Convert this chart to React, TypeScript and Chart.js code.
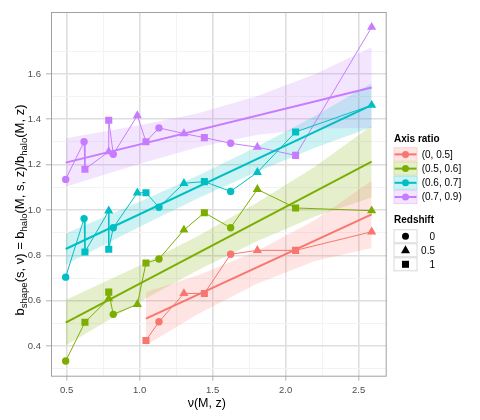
import React, { useEffect, useRef } from "react";
import { Chart, registerables } from "chart.js";
Chart.register(...registerables);

const groupLabels = ["(0, 0.5]", "(0.5, 0.6]", "(0.6, 0.7]", "(0.7, 0.9)"];
const groupColors = ["#F8766D", "#7CAE00", "#00BFC4", "#C77CFF"];
const groupFills = ["rgba(248,118,109,0.2)", "rgba(124,174,0,0.2)", "rgba(0,191,196,0.2)", "rgba(199,124,255,0.2)"];
const redshiftLabels = ["0", "0.5", "1"];

// measured points (nu, b, redshift)
const redNu = [1.043, 1.132, 1.303, 1.443, 1.623, 1.806, 2.068, 2.589];
const redB = [0.425, 0.507, 0.632, 0.632, 0.805, 0.822, 0.822, 0.904];
const redZ = [1, 0, 0.5, 1, 0, 0.5, 1, 0.5];

const greenNu = [0.493, 0.625, 0.788, 0.788, 0.819, 0.984, 1.043, 1.132, 1.303, 1.443, 1.623, 1.806, 2.068, 2.589];
const greenB = [0.334, 0.505, 0.609, 0.638, 0.54, 0.584, 0.766, 0.784, 0.912, 0.988, 0.922, 1.091, 1.009, 0.997];
const greenZ = [0, 1, 0.5, 1, 0, 0.5, 1, 0, 0.5, 1, 0, 0.5, 1, 0.5];

const cyanNu = [0.493, 0.619, 0.625, 0.788, 0.788, 0.819, 0.984, 1.043, 1.132, 1.303, 1.443, 1.623, 1.806, 2.068, 2.589];
const cyanB = [0.704, 0.962, 0.815, 0.996, 0.827, 0.922, 1.076, 1.076, 1.012, 1.118, 1.125, 1.082, 1.166, 1.344, 1.462];
const cyanZ = [0, 0, 1, 0.5, 1, 0, 0.5, 1, 0, 0.5, 1, 0, 0.5, 1, 0.5];

const purpleNu = [0.493, 0.619, 0.625, 0.788, 0.788, 0.819, 0.984, 1.043, 1.132, 1.303, 1.443, 1.623, 1.806, 2.068, 2.589];
const purpleB = [1.135, 1.301, 1.18, 1.257, 1.396, 1.246, 1.416, 1.301, 1.362, 1.337, 1.319, 1.294, 1.277, 1.241, 1.806];
const purpleZ = [0, 0, 1, 0.5, 1, 0, 0.5, 1, 0, 0.5, 1, 0, 0.5, 1, 0.5];

// regression lines (start / end)
const redFitX = [1.043, 2.589];
const redFitY = [0.521, 0.981];
const greenFitX = [0.493, 2.589];
const greenFitY = [0.503, 1.213];
const cyanFitX = [0.493, 2.589];
const cyanFitY = [0.828, 1.462];
const purpleFitX = [0.493, 2.589];
const purpleFitY = [1.209, 1.54];

// confidence ribbons
const redBandX = [1.043, 1.4, 1.8, 2.2, 2.589];
const redBandHi = [0.638, 0.712, 0.818, 0.955, 1.129];
const redBandLo = [0.404, 0.542, 0.674, 0.775, 0.833];
const bandX = [0.493, 1.0, 1.4, 1.8, 2.2, 2.589];
const greenBandHi = [0.603, 0.755, 0.885, 1.031, 1.191, 1.371];
const greenBandLo = [0.403, 0.595, 0.735, 0.861, 0.971, 1.055];
const cyanBandHi = [0.896, 1.036, 1.152, 1.278, 1.414, 1.559];
const cyanBandLo = [0.76, 0.926, 1.052, 1.168, 1.274, 1.365];
const purpleBandHi = [1.316, 1.374, 1.427, 1.501, 1.599, 1.718];
const purpleBandLo = [1.102, 1.204, 1.277, 1.331, 1.359, 1.362];

const xTickLabels = ["0.5", "1.0", "1.5", "2.0", "2.5"];
const yTickLabels = ["0.4", "0.6", "0.8", "1.0", "1.2", "1.4", "1.6"];

const FONT = "'Liberation Sans', Arial, Helvetica, sans-serif";

const styleFor = (z: number) => (z === 0 ? "circle" : z === 0.5 ? "triangle" : "rect");
const radiusFor = (z: number) => (z === 0 ? 3.7 : z === 0.5 ? 5.3 : 5.0);

const zip = (xs: number[], ys: number[]) => xs.map((x, i) => ({ x, y: ys[i] }));

const groups = [
  { nu: redNu, b: redB, z: redZ, fx: redFitX, fy: redFitY, bx: redBandX, hi: redBandHi, lo: redBandLo },
  { nu: greenNu, b: greenB, z: greenZ, fx: greenFitX, fy: greenFitY, bx: bandX, hi: greenBandHi, lo: greenBandLo },
  { nu: cyanNu, b: cyanB, z: cyanZ, fx: cyanFitX, fy: cyanFitY, bx: bandX, hi: cyanBandHi, lo: cyanBandLo },
  { nu: purpleNu, b: purpleB, z: purpleZ, fx: purpleFitX, fy: purpleFitY, bx: bandX, hi: purpleBandHi, lo: purpleBandLo },
];

const isMajorX = (v: number) => Math.abs(v * 2 - Math.round(v * 2)) < 1e-6;
const isMajorY = (v: number) => Math.round(v * 10) % 2 === 0;

const overlay = {
  id: "overlay",
  afterDraw(chart: any) {
    const ctx = chart.ctx as CanvasRenderingContext2D;
    const a = chart.chartArea;
    ctx.save();
    // panel border
    ctx.strokeStyle = "#a0a0a0";
    ctx.lineWidth = 1;
    ctx.strokeRect(a.left + 0.5, a.top + 0.5, a.right - a.left - 1, a.bottom - a.top - 1);

    // x title
    ctx.fillStyle = "#000";
    ctx.font = `12.5px ${FONT}`;
    ctx.textAlign = "center";
    ctx.textBaseline = "middle";
    ctx.fillText("ν(M, z)", 206.8, 404);

    // y title with subscripts
    const parts: [string, boolean][] = [
      ["b", false], ["shape", true], ["(s, ν) = b", false], ["halo", true],
      ["(M, s, z)/b", false], ["halo", true], ["(M, z)", false],
    ];
    const mainF = `13px ${FONT}`;
    const subF = `9.5px ${FONT}`;
    let total = 0;
    for (const [t, s] of parts) { ctx.font = s ? subF : mainF; total += ctx.measureText(t).width; }
    ctx.translate(19.5, 210);
    ctx.rotate(-Math.PI / 2);
    ctx.textAlign = "left";
    ctx.textBaseline = "alphabetic";
    let px = -total / 2;
    for (const [t, s] of parts) {
      ctx.font = s ? subF : mainF;
      ctx.fillText(t, px, s ? 7.8 : 4.7);
      px += ctx.measureText(t).width;
    }
    ctx.setTransform(1, 0, 0, 1, 0, 0);

    // legend: Axis ratio
    ctx.textAlign = "left";
    ctx.textBaseline = "middle";
    ctx.font = `bold 10px ${FONT}`;
    ctx.fillStyle = "#000";
    ctx.fillText("Axis ratio", 394, 139.5);
    const kx = 393.5, kw = 24, kh = 14.2;
    groupLabels.forEach((lab, i) => {
      const ky = 147.3 + i * kh;
      ctx.fillStyle = "#fff";
      ctx.fillRect(kx, ky, kw, kh);
      ctx.fillStyle = groupFills[i];
      ctx.fillRect(kx, ky, kw, kh);
      ctx.strokeStyle = groupFills[i];
      ctx.lineWidth = 1;
      ctx.strokeRect(kx + 0.5, ky + 0.5, kw - 1, kh - 1);
      ctx.strokeStyle = groupColors[i];
      ctx.lineWidth = 2;
      ctx.beginPath();
      ctx.moveTo(kx + 1, ky + kh / 2);
      ctx.lineTo(kx + kw - 1, ky + kh / 2);
      ctx.stroke();
      ctx.fillStyle = groupColors[i];
      ctx.beginPath();
      ctx.arc(kx + kw / 2, ky + kh / 2, 3.5, 0, Math.PI * 2);
      ctx.fill();
      ctx.fillStyle = "#000";
      ctx.font = `10px ${FONT}`;
      ctx.fillText(lab, 421.7, ky + kh / 2 + 0.5);
    });

    // legend: Redshift
    ctx.font = `bold 10px ${FONT}`;
    ctx.fillText("Redshift", 394, 220.7);
    const rkh = 14;
    redshiftLabels.forEach((lab, i) => {
      const ky = 229.3 + i * rkh;
      ctx.fillStyle = "#fff";
      ctx.fillRect(kx, ky, kw, rkh);
      ctx.strokeStyle = "#d9d9d9";
      ctx.lineWidth = 1;
      ctx.strokeRect(kx + 0.5, ky + 0.5, kw - 1, rkh - 1);
      const cx = kx + kw / 2, cy = ky + rkh / 2;
      ctx.fillStyle = "#000";
      ctx.beginPath();
      if (i === 0) ctx.arc(cx, cy, 3.5, 0, Math.PI * 2);
      else if (i === 1) { ctx.moveTo(cx, cy - 5); ctx.lineTo(cx + 4.5, cy + 3); ctx.lineTo(cx - 4.5, cy + 3); ctx.closePath(); }
      else ctx.rect(cx - 3.5, cy - 3.5, 7, 7);
      ctx.fill();
      ctx.font = `10px ${FONT}`;
      ctx.textAlign = "right";
      ctx.fillText(lab, 435, cy + 0.5);
      ctx.textAlign = "left";
    });
    ctx.restore();
  },
};

export default function App() {
  const ref = useRef<HTMLCanvasElement | null>(null);
  useEffect(() => {
    if (!ref.current) return;
    const datasets: any[] = [];
    groups.forEach((g, i) => {
      datasets.push({
        data: zip(g.bx, g.hi), borderColor: "transparent", borderWidth: 0, pointRadius: 0,
        backgroundColor: groupFills[i], fill: "+1", order: 3, tension: 0,
      });
      datasets.push({
        data: zip(g.bx, g.lo), borderColor: "transparent", borderWidth: 0, pointRadius: 0,
        fill: false, order: 3, tension: 0,
      });
    });
    groups.forEach((g, i) => {
      datasets.push({
        data: zip(g.nu, g.b), borderColor: groupColors[i], borderWidth: 1,
        pointStyle: g.z.map(styleFor), pointRadius: g.z.map(radiusFor),
        pointBackgroundColor: groupColors[i], pointBorderColor: groupColors[i], pointBorderWidth: 0,
        fill: false, order: 2, tension: 0,
      });
    });
    groups.forEach((g, i) => {
      datasets.push({
        data: zip(g.fx, g.fy), borderColor: groupColors[i], borderWidth: 2,
        pointRadius: 0, fill: false, order: 1, tension: 0,
      });
    });

    const chart = new Chart(ref.current, {
      type: "line",
      data: { datasets },
      plugins: [overlay],
      options: {
        animation: false,
        responsive: false,
        devicePixelRatio: 1,
        layout: { padding: { left: 0, top: 12, right: 93.3, bottom: 0 } },
        plugins: { legend: { display: false }, tooltip: { enabled: false } },
        scales: {
          x: {
            type: "linear",
            min: 0.3925,
            max: 2.692,
            border: { display: false },
            ticks: {
              stepSize: 0.25,
              includeBounds: false,
              autoSkip: false,
              maxRotation: 0,
              padding: 4,
              color: "#4d4d4d",
              font: { size: 9.5, family: FONT },
              callback: (v: any) => (isMajorX(Number(v)) ? xTickLabels[Math.round((Number(v) - 0.5) * 2)] : ""),
            },
            grid: {
              color: (c: any) => (c.tick && isMajorX(c.tick.value) ? "#dedede" : "#f3f3f3"),
              lineWidth: (c: any) => (c.tick && isMajorX(c.tick.value) ? 1.6 : 1),
              tickLength: 4,
              tickColor: (c: any) => (c.tick && isMajorX(c.tick.value) ? "#b3b3b3" : "rgba(0,0,0,0)"),
              tickWidth: 1,
            },
            afterFit: (s: any) => { s.height = 420 - 376.7; },
          },
          y: {
            type: "linear",
            min: 0.265,
            max: 1.873,
            border: { display: false },
            ticks: {
              stepSize: 0.1,
              includeBounds: false,
              autoSkip: false,
              padding: 5,
              color: "#4d4d4d",
              font: { size: 9.5, family: FONT },
              callback: (v: any) => (isMajorY(Number(v)) ? yTickLabels[Math.round((Number(v) - 0.4) * 5)] : ""),
            },
            grid: {
              color: (c: any) => (c.tick && isMajorY(c.tick.value) ? "#dedede" : "#f3f3f3"),
              lineWidth: (c: any) => (c.tick && isMajorY(c.tick.value) ? 1.6 : 1),
              tickLength: 5,
              tickColor: (c: any) => (c.tick && isMajorY(c.tick.value) ? "#b3b3b3" : "rgba(0,0,0,0)"),
              tickWidth: 1,
            },
            afterFit: (s: any) => { s.width = 51; },
          },
        },
      } as any,
    });
    return () => chart.destroy();
  }, []);
  return (
    <div style={{ position: "fixed", left: 0, top: 0, width: 480, height: 420, background: "#fff" }}>
      <canvas ref={ref} width={480} height={420} />
    </div>
  );
}
